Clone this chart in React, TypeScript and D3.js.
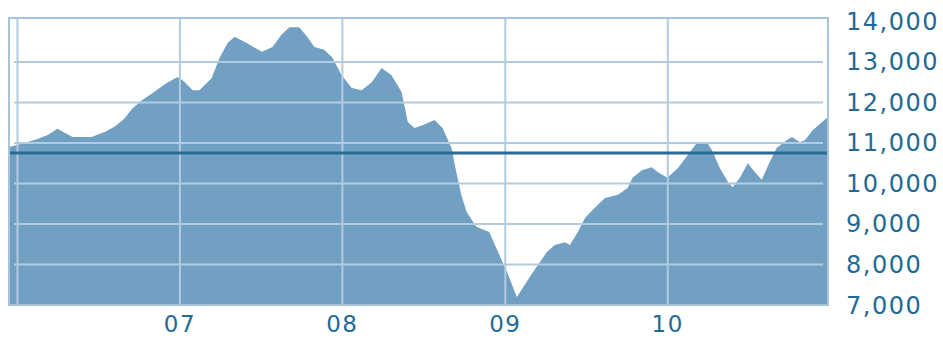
import React, { useRef, useEffect } from 'react';
import * as d3 from 'd3';

// index closes
const dates = [
    '2005-12-13', '2006-01-17', '2006-02-15', '2006-03-10', '2006-04-01', '2006-04-17', '2006-05-05',
    '2006-06-16', '2006-07-16', '2006-08-07', '2006-08-29', '2006-09-16', '2006-10-07', '2006-10-31',
    '2006-12-02', '2006-12-27', '2007-01-07', '2007-01-30', '2007-02-14', '2007-03-13', '2007-03-31',
    '2007-04-18', '2007-05-04', '2007-05-31', '2007-07-04', '2007-07-28', '2007-08-17', '2007-09-04',
    '2007-09-26', '2007-10-14', '2007-10-30', '2007-11-21', '2007-12-09', '2007-12-30', '2008-01-22',
    '2008-02-13', '2008-03-07', '2008-03-29', '2008-04-20', '2008-05-13', '2008-05-27', '2008-06-11',
    '2008-06-29', '2008-07-26', '2008-08-13', '2008-09-02', '2008-09-13', '2008-09-24', '2008-10-06',
    '2008-10-28', '2008-11-26', '2008-12-19', '2009-01-05', '2009-01-27', '2009-02-09', '2009-03-04',
    '2009-04-04', '2009-04-22', '2009-05-15', '2009-05-26', '2009-06-13', '2009-06-29', '2009-07-21',
    '2009-08-13', '2009-09-11', '2009-10-03', '2009-10-14', '2009-11-04', '2009-11-26', '2009-12-10',
    '2009-12-31', '2010-01-24', '2010-02-20', '2010-03-07', '2010-03-30', '2010-04-10', '2010-04-28',
    '2010-05-16', '2010-05-27', '2010-06-12', '2010-06-30', '2010-07-16', '2010-07-31', '2010-08-18',
    '2010-09-03', '2010-09-25', '2010-10-07', '2010-10-25', '2010-11-05', '2010-11-23', '2010-12-27'
];

const closes = [
    10900, 11000, 11100, 11200, 11350, 11250, 11150,
    11150, 11270, 11400, 11600, 11850, 12050, 12230,
    12480, 12630, 12550, 12300, 12300, 12600, 13100,
    13470, 13620, 13470, 13250, 13370, 13670, 13860,
    13860, 13620, 13370, 13300, 13120, 12680, 12360,
    12300, 12500, 12850, 12680, 12260, 11520, 11370,
    11440, 11570, 11370, 10880, 10280, 9720, 9300,
    8930, 8800, 8230, 7810, 7200, 7420, 7810,
    8300, 8480, 8550, 8480, 8800, 9150, 9400,
    9640, 9720, 9890, 10140, 10330, 10400, 10280,
    10140, 10380, 10780, 11000, 11020, 10830, 10380,
    10040, 9910, 10140, 10500, 10280, 10090, 10530,
    10880, 11070, 11150, 11020, 11070, 11320, 11640
];

const yTicks = [7000, 8000, 9000, 10000, 11000, 12000, 13000, 14000];
const yearLines = ['2006-01-01', '2007-01-01', '2008-01-01', '2009-01-01', '2010-01-01'];
const yearLabels = ['2007-01-01', '2008-01-01', '2009-01-01', '2010-01-01'];
const baseline = 10750;
const xDomain = ['2005-12-13', '2010-12-27'];
const yDomain = [7000, 14086];

const parse = d3.timeParse('%Y-%m-%d');

const createChart = (svg: d3.Selection<SVGSVGElement, unknown, null, undefined>): void => {
    const left = 9, right = 828, top = 18, bottom = 305;
    const textColor = '#1f6a96';
    const gridColor = '#b3cbe0';

    svg.selectAll('*').remove();

    const data = dates.map((d, i) => ({ date: parse(d) as Date, value: closes[i] }));

    const x = d3.scaleTime()
        .domain(xDomain.map(d => parse(d) as Date))
        .range([left, right]);

    const y = d3.scaleLinear()
        .domain(yDomain)
        .range([bottom, top]);

    // filled area
    const area = d3.area<{ date: Date; value: number }>()
        .x(d => x(d.date))
        .y0(bottom)
        .y1(d => y(d.value));

    svg.append('path')
        .datum(data)
        .attr('d', area)
        .attr('fill', '#72a0c3');

    // horizontal grid
    svg.append('g')
        .selectAll('line')
        .data(yTicks.filter(t => t > 7000 && t < 14000))
        .enter().append('line')
        .attr('x1', 14)
        .attr('x2', 823)
        .attr('y1', d => y(d))
        .attr('y2', d => y(d))
        .attr('stroke', gridColor)
        .attr('stroke-width', 2);

    // year grid
    svg.append('g')
        .selectAll('line')
        .data(yearLines.map(d => parse(d) as Date))
        .enter().append('line')
        .attr('x1', d => x(d))
        .attr('x2', d => x(d))
        .attr('y1', top)
        .attr('y2', bottom)
        .attr('stroke', gridColor)
        .attr('stroke-width', 2);

    // frame
    svg.append('rect')
        .attr('x', left)
        .attr('y', top)
        .attr('width', right - left)
        .attr('height', bottom - top)
        .attr('fill', 'none')
        .attr('stroke', '#a9c3da')
        .attr('stroke-width', 2);

    // reference line
    svg.append('line')
        .attr('x1', left + 1)
        .attr('x2', right - 1)
        .attr('y1', y(baseline))
        .attr('y2', y(baseline))
        .attr('stroke', '#2a6b93')
        .attr('stroke-width', 3);

    // y labels
    svg.append('g')
        .selectAll('text')
        .data(yTicks)
        .enter().append('text')
        .attr('x', 846)
        .attr('y', d => y(d) + 8.5)
        .attr('fill', textColor)
        .attr('font-family', '"DejaVu Sans", Verdana, sans-serif')
        .attr('font-size', 24)
        .attr('letter-spacing', 1.5)
        .text(d => d3.format(',')(d));

    // x labels
    svg.append('g')
        .selectAll('text')
        .data(yearLabels.map(d => parse(d) as Date))
        .enter().append('text')
        .attr('x', d => x(d))
        .attr('y', 332)
        .attr('text-anchor', 'middle')
        .attr('fill', textColor)
        .attr('font-family', '"DejaVu Sans", Verdana, sans-serif')
        .attr('font-size', 23)
        .attr('letter-spacing', 1.5)
        .text(d => d3.timeFormat('%y')(d));
};

const App: React.FC = () => {
    const ref = useRef<SVGSVGElement>(null);

    useEffect(() => {
        if (ref.current) {
            createChart(d3.select(ref.current));
        }
    }, []);

    return (
        <svg
            ref={ref}
            width={943}
            height={338}
            style={{ position: 'absolute', left: 0, top: 0, background: '#fff' }}
        />
    );
};

export default App;
